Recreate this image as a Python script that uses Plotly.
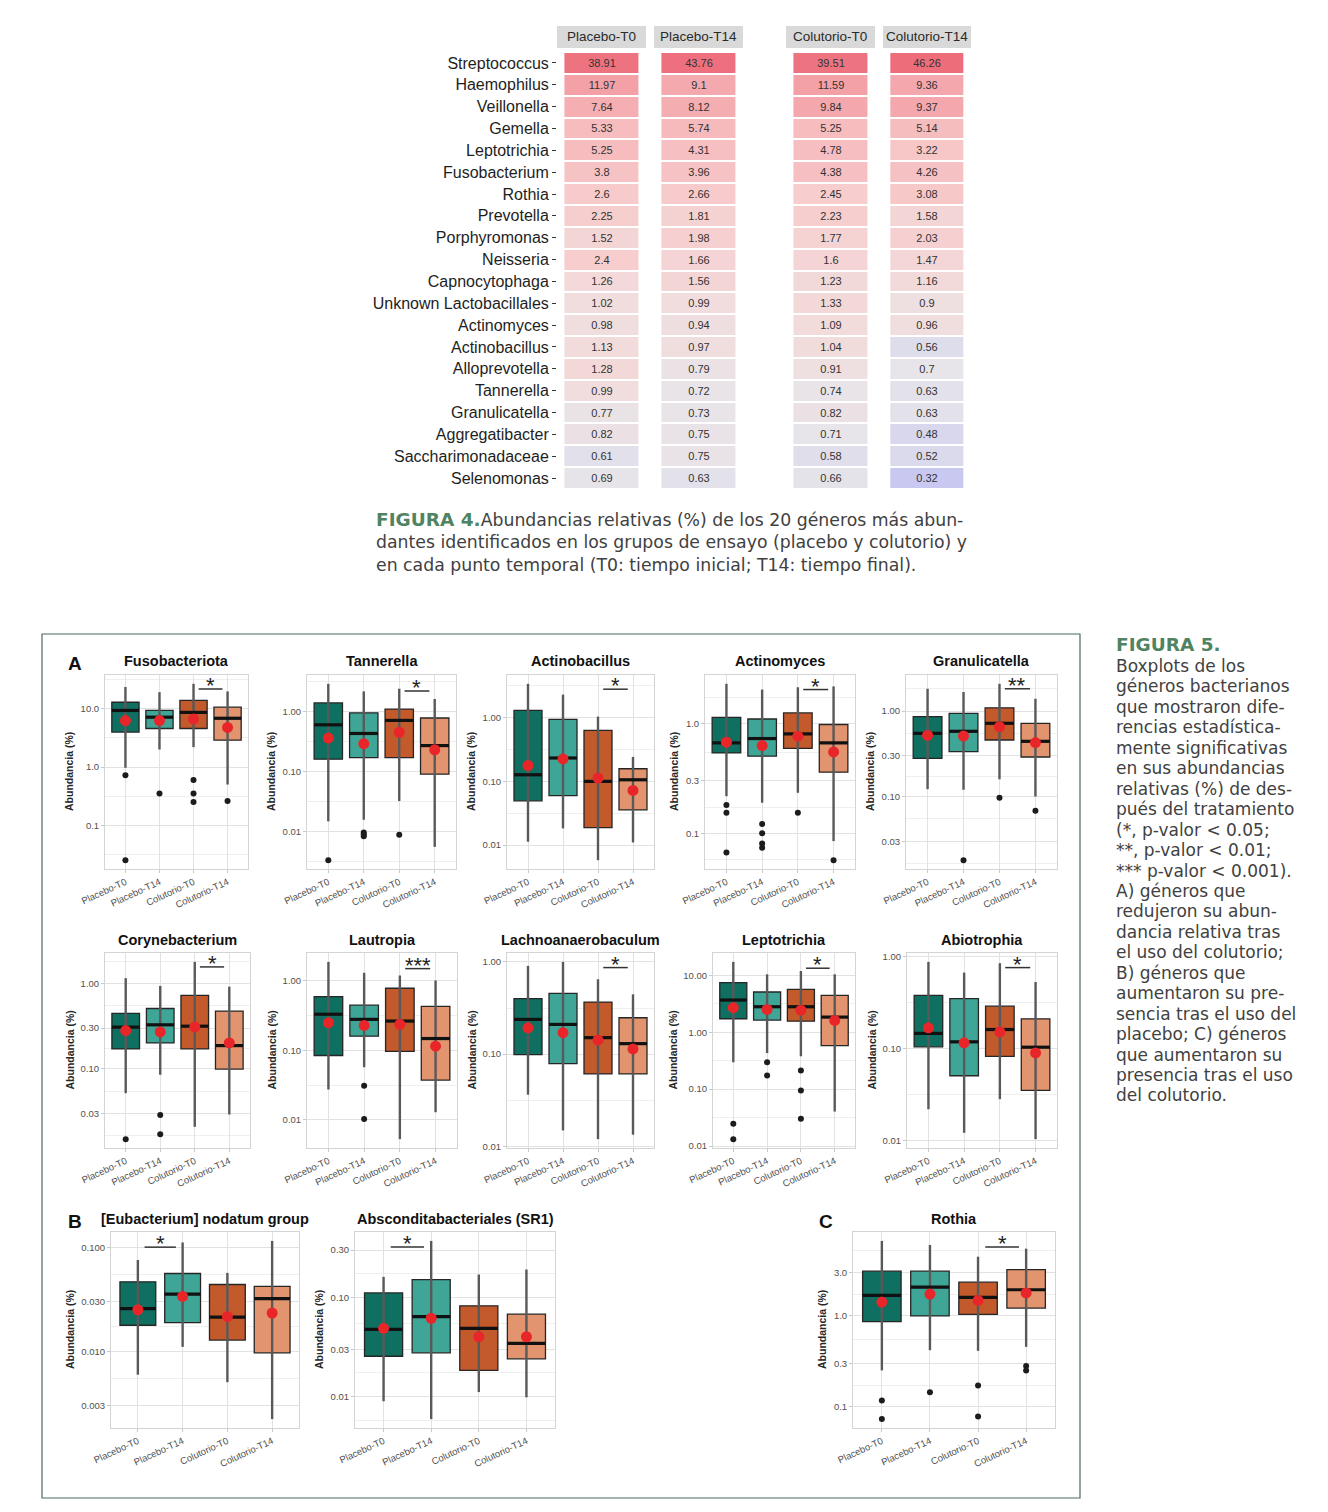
import numpy as np
import plotly.graph_objects as go

W, H = 1328, 1512
def px(x): return x / W
def py(y): return 1 - y / H

# ---------------- heatmap data (Figura 4) ----------------
genera = ["Streptococcus", "Haemophilus", "Veillonella", "Gemella", "Leptotrichia",
          "Fusobacterium", "Rothia", "Prevotella", "Porphyromonas", "Neisseria",
          "Capnocytophaga", "Unknown Lactobacillales", "Actinomyces", "Actinobacillus",
          "Alloprevotella", "Tannerella", "Granulicatella", "Aggregatibacter",
          "Saccharimonadaceae", "Selenomonas"]
hm_groups = ["Placebo-T0", "Placebo-T14", "Colutorio-T0", "Colutorio-T14"]
placebo_t0 = [38.91, 11.97, 7.64, 5.33, 5.25, 3.8, 2.6, 2.25, 1.52, 2.4, 1.26, 1.02, 0.98, 1.13, 1.28, 0.99, 0.77, 0.82, 0.61, 0.69]
placebo_t14 = [43.76, 9.1, 8.12, 5.74, 4.31, 3.96, 2.66, 1.81, 1.98, 1.66, 1.56, 0.99, 0.94, 0.97, 0.79, 0.72, 0.73, 0.75, 0.75, 0.63]
colutorio_t0 = [39.51, 11.59, 9.84, 5.25, 4.78, 4.38, 2.45, 2.23, 1.77, 1.6, 1.23, 1.33, 1.09, 1.04, 0.91, 0.74, 0.82, 0.71, 0.58, 0.66]
colutorio_t14 = [46.26, 9.36, 9.37, 5.14, 3.22, 4.26, 3.08, 1.58, 2.03, 1.47, 1.16, 0.9, 0.96, 0.56, 0.7, 0.63, 0.63, 0.48, 0.52, 0.32]

# ---------------- boxplot data (Figura 5) ----------------
groups = ["Placebo-T0", "Placebo-T14", "Colutorio-T0", "Colutorio-T14"]
box_colors = ["#0f6f60", "#3fa697", "#c25a2c", "#e2946f"]
titles = ["Fusobacteriota", "Tannerella", "Actinobacillus", "Actinomyces", "Granulicatella",
          "Corynebacterium", "Lautropia", "Lachnoanaerobaculum", "Leptotrichia", "Abiotrophia",
          "[Eubacterium] nodatum group", "Absconditabacteriales (SR1)", "Rothia"]
whisk_hi = [[23.8, 19.4, 27, 20], [2.9, 2.17, 2.4, 1.62], [3.4, 2.3, 1.04, 0.242],
            [2.3, 2.04, 2.14, 2.18], [1.82, 1.67, 2.08, 1.39], [1.16, 0.94, 1.8, 0.92],
            [1.85, 1.29, 1.18, 1.0], [0.905, 1.0, 0.648, 0.445], [17.2, 10.4, 11.9, 10.4],
            [0.882, 0.674, 0.853, 0.533], [0.0759, 0.112, 0.057, 0.116],
            [0.161, 0.371, 0.17, 0.191], [6.7, 6.04, 4.49, 5.5]]
q3 = [[13, 9.4, 14, 10.7], [1.39, 0.95, 1.1, 0.78], [1.3, 0.94, 0.63, 0.158],
      [1.14, 1.10, 1.25, 0.98], [0.86, 0.94, 1.09, 0.718], [0.447, 0.51, 0.728, 0.475],
      [0.586, 0.443, 0.774, 0.424], [0.40, 0.456, 0.367, 0.248], [7.4, 5.08, 5.66, 4.44],
      [0.381, 0.351, 0.291, 0.212], [0.0467, 0.0562, 0.044, 0.0423],
      [0.111, 0.151, 0.0823, 0.0677], [3.11, 3.11, 2.35, 3.24]]
median = [[9.4, 7.2, 8.7, 6.9], [0.60, 0.43, 0.71, 0.27], [0.127, 0.233, 0.10, 0.106],
          [0.667, 0.73, 0.805, 0.667], [0.548, 0.579, 0.718, 0.442], [0.308, 0.328, 0.316, 0.187],
          [0.328, 0.277, 0.262, 0.147], [0.238, 0.21, 0.151, 0.13], [3.67, 2.8, 2.8, 1.84],
          [0.147, 0.119, 0.162, 0.104], [0.0257, 0.0356, 0.0213, 0.0321],
          [0.0477, 0.0641, 0.0488, 0.0344], [1.68, 2.08, 1.6, 1.94]]
q1 = [[4.0, 4.6, 4.6, 2.9], [0.16, 0.17, 0.17, 0.09], [0.0495, 0.060, 0.0188, 0.0357],
      [0.54, 0.505, 0.593, 0.361], [0.28, 0.335, 0.458, 0.29], [0.171, 0.201, 0.171, 0.099],
      [0.084, 0.159, 0.096, 0.0373], [0.099, 0.079, 0.061, 0.061], [1.72, 1.63, 1.56, 0.58],
      [0.105, 0.0509, 0.0828, 0.0352], [0.0178, 0.0189, 0.0128, 0.00964],
      [0.0255, 0.0276, 0.0184, 0.024], [0.865, 1.0, 1.04, 1.22]]
whisk_lo = [[0.97, 2.0, 2.2, 0.5], [0.0147, 0.0156, 0.032, 0.0055], [0.0113, 0.0183, 0.0058, 0.011],
            [0.218, 0.19, 0.234, 0.085], [0.122, 0.12, 0.159, 0.1], [0.0516, 0.085, 0.0208, 0.029],
            [0.0273, 0.057, 0.0053, 0.0129], [0.0364, 0.0149, 0.012, 0.0134],
            [0.296, 0.43, 0.377, 0.0403], [0.022, 0.0122, 0.0283, 0.0104],
            [0.00593, 0.011, 0.00502, 0.00221], [0.00897, 0.00593, 0.0111, 0.00984],
            [0.251, 0.419, 0.412, 0.456]]
means = [[6.3, 6.3, 6.7, 4.8], [0.36, 0.29, 0.45, 0.23], [0.177, 0.225, 0.113, 0.072],
         [0.676, 0.63, 0.767, 0.552], [0.52, 0.51, 0.656, 0.427], [0.281, 0.271, 0.31, 0.201],
         [0.248, 0.227, 0.235, 0.114], [0.193, 0.171, 0.142, 0.114], [2.69, 2.51, 2.44, 1.61],
         [0.169, 0.116, 0.153, 0.09], [0.0251, 0.0338, 0.0216, 0.0233],
         [0.0488, 0.0616, 0.0401, 0.0401], [1.42, 1.74, 1.48, 1.79]]
outliers = [[[0.72, 0.025], [0.35], [0.6, 0.35, 0.25], [0.26]],
            [[0.0033], [0.0096, 0.0083, 0.0089], [0.0088], []],
            [[], [], [], []],
            [[0.181, 0.154, 0.067], [0.122, 0.1, 0.081, 0.074], [0.154], [0.057]],
            [[], [0.018], [0.097], [0.068]],
            [[0.0149], [0.0286, 0.017], [], []],
            [[], [0.0308, 0.0103], [], []],
            [[], [], [], []],
            [[0.0245, 0.0132], [0.296, 0.174], [0.213, 0.0947, 0.03], []],
            [[], [], [], []],
            [[], [], [], []],
            [[], [], [], []],
            [[0.117, 0.073], [0.144], [0.171, 0.078], [0.281, 0.251]]]
sig_from = [2, 2, 2, 2, 2, 2, 2, 2, 2, 2, 0, 0, 2]
sig_to = [3, 3, 3, 3, 3, 3, 3, 3, 3, 3, 1, 1, 3]
sig_y = [22, 2.2, 2.8, 2.04, 1.82, 1.57, 1.48, 0.867, 13.3, 0.764, 0.101, 0.322, 5.74]
sig_label = ["*", "*", "*", "*", "**", "*", "***", "*", "*", "*", "*", "*", "*"]
ytick_vals = [[0.1, 1, 10], [0.01, 0.1, 1], [0.01, 0.1, 1], [0.1, 0.3, 1], [0.03, 0.1, 0.3, 1],
              [0.03, 0.1, 0.3, 1], [0.01, 0.1, 1], [0.01, 0.1, 1], [0.01, 0.1, 1, 10],
              [0.01, 0.1, 1], [0.003, 0.01, 0.03, 0.1], [0.01, 0.03, 0.1, 0.3], [0.1, 0.3, 1, 3]]
ytick_text = [["0.1", "1.0", "10.0"], ["0.01", "0.10", "1.00"], ["0.01", "0.10", "1.00"],
              ["0.1", "0.3", "1.0"], ["0.03", "0.10", "0.30", "1.00"], ["0.03", "0.10", "0.30", "1.00"],
              ["0.01", "0.10", "1.00"], ["0.01", "0.10", "1.00"], ["0.01", "0.10", "1.00", "10.00"],
              ["0.01", "0.10", "1.00"], ["0.003", "0.010", "0.030", "0.100"],
              ["0.01", "0.03", "0.10", "0.30"], ["0.1", "0.3", "1.0", "3.0"]]

fig4_lines = ["Abundancias relativas (%) de los 20 géneros más abun-",
              "dantes identificados en los grupos de ensayo (placebo y colutorio) y",
              "en cada punto temporal (T0: tiempo inicial; T14: tiempo final)."]
fig5_lines = ["Boxplots de los", "géneros bacterianos", "que mostraron dife-",
              "rencias estadística-", "mente significativas", "en sus abundancias",
              "relativas (%) de des-", "pués del tratamiento", "(*, p-valor < 0.05;",
              "**, p-valor < 0.01;", "*** p-valor < 0.001).", "A) géneros que",
              "redujeron su abun-", "dancia relativa tras", "el uso del colutorio;",
              "B) géneros que", "aumentaron su pre-", "sencia tras el uso del",
              "placebo; C) géneros", "que aumentaron su", "presencia tras el uso",
              "del colutorio."]

# ---------------- layout geometry (pixels) ----------------
hm_x = [(557, 646), (654, 743), (786, 875), (883, 971)]
hm_y = (52, 489)
panel_x = [(105, 248), (307, 456), (507, 654), (705, 855), (906, 1057),
           (105, 250), (307, 457), (507, 654), (713, 855), (907, 1057),
           (111, 299), (355, 555), (853, 1055)]
row_y = [(675, 869), (953, 1148), (1232, 1428)]
panel_row = [0] * 5 + [1] * 5 + [2] * 3
title_y = [661, 940, 1219]

FONT = "Liberation Sans, Arial, sans-serif"
CAP_FONT = "DejaVu Sans, sans-serif"
GREEN = "#4f8362"
CAP_COLOR = "#414141"

fig = go.Figure()
layout = dict(width=W, height=H, margin=dict(l=0, r=0, t=0, b=0, pad=0, autoexpand=False),
              paper_bgcolor="white", plot_bgcolor="white", showlegend=False,
              font=dict(family=FONT, color="#222"))
annotations = []
shapes = []

def note(x, y, text, size, color="#222", family=FONT, xanchor="center", yanchor="middle", **kw):
    d = dict(x=x, y=y, xref="paper", yref="paper", text=text, showarrow=False,
             xanchor=xanchor, yanchor=yanchor, font=dict(size=size, color=color, family=family))
    d.update(kw)
    annotations.append(d)

# ---------------- heatmaps ----------------
zmin, zmax = np.log10(0.3), np.log10(50)
cscale = [[0, "#c6c6f2"], [0.166, "#e7e5e9"], [0.235, "#f1dddd"], [0.406, "#f7cdcd"],
          [0.561, "#f6bcbe"], [0.72, "#f3a0a6"], [1, "#ed6a79"]]
hm_cols = [placebo_t0, placebo_t14, colutorio_t0, colutorio_t14]
for i, vals in enumerate(hm_cols):
    xn = "x" if i == 0 else f"x{i+1}"
    fig.add_trace(go.Heatmap(
        x=[0], y=genera, z=[[np.log10(v)] for v in vals],
        text=[[str(v)] for v in vals], texttemplate="%{text}",
        textfont=dict(size=11, color="#333", family=FONT),
        colorscale=cscale, zmin=zmin, zmax=zmax, showscale=False,
        ygap=2, xaxis=xn, yaxis="y", hoverinfo="skip"))
    l, r = hm_x[i]
    key = "xaxis" if i == 0 else f"xaxis{i+1}"
    layout[key] = dict(domain=[px(l), px(r)], anchor="y", range=[-0.6, 0.6], automargin=False,
                       showticklabels=False, showgrid=False, zeroline=False, ticks="")
    shapes.append(dict(type="rect", xref="paper", yref="paper", x0=px(l), x1=px(r),
                       y0=py(48), y1=py(26), fillcolor="#d9d9d9", line=dict(width=0), layer="below"))
    note(px((l + r) / 2), py(37), hm_groups[i], 13.5, "#2a2a2a")
layout["yaxis"] = dict(domain=[py(hm_y[1]), py(hm_y[0])], anchor="x", autorange="reversed",
                       categoryorder="array", categoryarray=genera, automargin=False,
                       ticks="outside", ticklen=4, tickcolor="#333",
                       tickfont=dict(size=16, color="#1e1e1e", family=FONT),
                       showgrid=False, zeroline=False, showline=False)

# ---------------- boxplot panels ----------------
for p in range(13):
    xn, yn = 5 + p, 2 + p
    xr, yr = f"x{xn}", f"y{yn}"
    l, r = panel_x[p]
    t, b = row_y[panel_row[p]]
    # whiskers
    wx, wy = [], []
    for g in range(4):
        wx += [g, g, None]
        wy += [whisk_lo[p][g], whisk_hi[p][g], None]
    fig.add_trace(go.Scatter(x=wx, y=wy, mode="lines", line=dict(color="#595959", width=2.4),
                             xaxis=xr, yaxis=yr, hoverinfo="skip"))
    # boxes
    for g in range(4):
        fig.add_trace(go.Box(x=[g], q1=[q1[p][g]], median=[median[p][g]], q3=[q3[p][g]],
                             lowerfence=[q1[p][g]], upperfence=[q3[p][g]], width=0.8,
                             fillcolor=box_colors[g], line=dict(color="#262626", width=1.3),
                             boxpoints=False, xaxis=xr, yaxis=yr, hoverinfo="skip"))
    # medians
    mx, my = [], []
    for g in range(4):
        mx += [g - 0.4, g + 0.4, None]
        my += [median[p][g], median[p][g], None]
    fig.add_trace(go.Scatter(x=mx, y=my, mode="lines", line=dict(color="#111", width=3.2),
                             xaxis=xr, yaxis=yr, hoverinfo="skip"))
    # outliers
    ox, oy = [], []
    for g in range(4):
        ox += [g] * len(outliers[p][g])
        oy += outliers[p][g]
    if ox:
        fig.add_trace(go.Scatter(x=ox, y=oy, mode="markers",
                                 marker=dict(color="#1c1c1c", size=6),
                                 xaxis=xr, yaxis=yr, hoverinfo="skip"))
    # means
    fig.add_trace(go.Scatter(x=list(range(4)), y=means[p], mode="markers",
                             marker=dict(color="#e8262a", size=11),
                             xaxis=xr, yaxis=yr, hoverinfo="skip"))
    # significance bracket
    a, c = sig_from[p], sig_to[p]
    fig.add_trace(go.Scatter(x=[a + 0.15, c - 0.15], y=[sig_y[p], sig_y[p]], mode="lines",
                             line=dict(color="#333", width=1.5), xaxis=xr, yaxis=yr,
                             hoverinfo="skip"))
    annotations.append(dict(x=(a + c) / 2, y=np.log10(sig_y[p]), xref=xr, yref=yr,
                            text=sig_label[p], showarrow=False, xanchor="center",
                            yanchor="bottom", yshift=-11,
                            font=dict(size=22, color="#222", family=FONT)))
    # axis ranges from data
    allv = whisk_lo[p] + whisk_hi[p] + [v for o in outliers[p] for v in o] + [sig_y[p]]
    lo, hi = np.log10(min(allv)), np.log10(max(allv))
    pad = 0.05 * (hi - lo)
    lt = np.log10(ytick_vals[p])
    mids = list((lt[:-1] + lt[1:]) / 2)
    step = (lt[1] - lt[0]) / 2
    minor = [10 ** m for m in [lt[0] - step] + mids + [lt[-1] + step]]
    layout[f"xaxis{xn}"] = dict(domain=[px(l), px(r)], anchor=yr, range=[-0.6, 3.6],
                                tickmode="array", tickvals=[0, 1, 2, 3], ticktext=groups,
                                tickangle=-25, tickfont=dict(size=9.5, color="#505050"),
                                showgrid=True, gridcolor="#e2e2e2", showline=True, mirror=True,
                                linecolor="#d4d4d4", zeroline=False, ticks="outside",
                                ticklen=3, tickcolor="#c8c8c8", automargin=False)
    layout[f"yaxis{yn}"] = dict(domain=[py(b), py(t)], anchor=xr, type="log",
                                range=[lo - pad, hi + pad], tickmode="array",
                                tickvals=ytick_vals[p], ticktext=ytick_text[p],
                                tickfont=dict(size=9.5, color="#505050"),
                                showgrid=True, gridcolor="#e2e2e2",
                                minor=dict(tickvals=minor, showgrid=True, gridcolor="#efefef", ticks=""),
                                showline=True, mirror=True, linecolor="#d4d4d4", zeroline=False,
                                ticks="outside", ticklen=3, tickcolor="#c8c8c8", automargin=False)
    # title
    note(px((l + r) / 2), py(title_y[panel_row[p]]), f"<b>{titles[p]}</b>", 14.5, "#111")
    # y-axis title
    maxlen = max(len(s) for s in ytick_text[p])
    note(px(l - (5.0 * maxlen + 16)), py((t + b) / 2), "<b>Abundancia (%)</b>", 10.5, "#262626",
         textangle=-90)

# panel letters
for letter, (lx, ly) in zip(["A", "B", "C"], [(75, 663), (75, 1221), (826, 1221)]):
    note(px(lx), py(ly), f"<b>{letter}</b>", 19, "#111")

# frame around Figura 5
shapes.append(dict(type="rect", xref="paper", yref="paper", x0=px(42), x1=px(1080),
                   y0=py(1498), y1=py(634), line=dict(color="#4d6b58", width=1.2)))

# captions
for i, line in enumerate(fig4_lines):
    txt = line if i else f"<span style='color:{GREEN};font-size:18.5px'><b>FIGURA 4.</b></span>{line}"
    note(px(374), py(519 + 23 * i), txt, 17.3, CAP_COLOR, CAP_FONT, xanchor="left")
note(px(1114), py(644), "<b>FIGURA 5.</b>", 18.5, GREEN, CAP_FONT, xanchor="left")
for i, line in enumerate(fig5_lines):
    note(px(1114), py(666 + 20.45 * i), line, 17, CAP_COLOR, CAP_FONT, xanchor="left")

layout["annotations"] = annotations
layout["shapes"] = shapes
fig.update_layout(**layout)
fig.write_html("out.html", config={"displayModeBar": False},
               post_script="document.body.style.margin='0px';document.body.style.overflow='hidden';")
